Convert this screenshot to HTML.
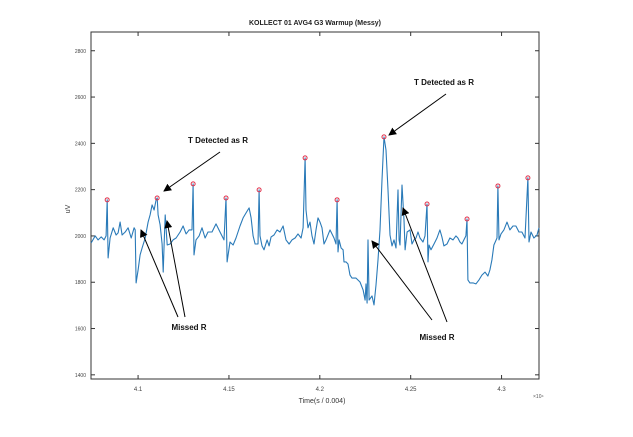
<!DOCTYPE html>
<html><head><meta charset="utf-8"><style>
html,body{margin:0;padding:0;background:#fff;}
svg{display:block;font-family:"Liberation Sans",sans-serif;}
</style></head><body>
<svg id="chart" width="633" height="437">
<defs><marker id="ah" markerWidth="8" markerHeight="8" refX="7" refY="4" orient="auto" markerUnits="userSpaceOnUse"><path d="M0,0 L8,4 L0,8 z" fill="#000"/></marker></defs>
<rect width="633" height="437" fill="#fff"/>
<text x="315" y="25" font-size="7" font-weight="bold" text-anchor="middle" fill="#222">KOLLECT 01 AVG4 G3 Warmup (Messy)</text>
<g id="axes"></g>
<g id="series"></g>
<g id="peaks"></g>
<g id="annot" font-size="8" font-weight="bold" fill="#111">
<text x="218" y="143" text-anchor="middle">T Detected as R</text>
<line x1="220" y1="152" x2="164" y2="191" stroke="#000" stroke-width="1" marker-end="url(#ah)"/>
<text x="444" y="85" text-anchor="middle">T Detected as R</text>
<line x1="446" y1="94" x2="389" y2="135" stroke="#000" stroke-width="1" marker-end="url(#ah)"/>
<text x="189" y="330" text-anchor="middle">Missed R</text>
<line x1="178" y1="317" x2="141" y2="230" stroke="#000" stroke-width="1" marker-end="url(#ah)"/>
<line x1="185" y1="317" x2="167" y2="221" stroke="#000" stroke-width="1" marker-end="url(#ah)"/>
<text x="437" y="340" text-anchor="middle">Missed R</text>
<line x1="432" y1="320" x2="372" y2="241" stroke="#000" stroke-width="1" marker-end="url(#ah)"/>
<line x1="447" y1="322" x2="403" y2="208" stroke="#000" stroke-width="1" marker-end="url(#ah)"/>
</g>
<text x="322" y="403" font-size="7" text-anchor="middle" fill="#333">Time(s / 0.004)</text>
<text x="533" y="398" font-size="5" fill="#555">×10⁴</text>
<text x="70" y="209" font-size="7" fill="#333" text-anchor="middle" transform="rotate(-90 70 209)">uV</text>
</svg>
<script>
const timeVals=[40742,40764,40780,40797,40813,40824,40830,40835,40846,40863,40879,40890,40901,40912,40929,40945,40962,40978,40984,40989,41000,41011,41022,41039,41055,41066,41077,41088,41099,41105,41110,41121,41132,41138,41143,41149,41160,41176,41193,41209,41231,41248,41264,41281,41297,41303,41308,41319,41336,41352,41369,41385,41407,41429,41451,41473,41484,41490,41506,41523,41539,41561,41578,41594,41611,41622,41633,41644,41660,41666,41671,41682,41693,41710,41721,41732,41748,41765,41781,41798,41814,41831,41847,41864,41880,41897,41908,41919,41924,41935,41946,41957,41968,41979,41990,42001,42012,42023,42034,42056,42078,42089,42095,42100,42106,42117,42128,42133,42144,42155,42166,42177,42199,42221,42238,42249,42254,42260,42265,42271,42287,42298,42309,42320,42331,42342,42353,42364,42375,42386,42397,42408,42419,42430,42436,42441,42452,42463,42469,42480,42496,42507,42518,42529,42540,42551,42568,42579,42590,42595,42601,42612,42628,42645,42661,42672,42683,42700,42716,42733,42749,42760,42771,42782,42793,42804,42810,42815,42826,42843,42859,42876,42892,42909,42925,42936,42947,42958,42975,42980,42986,42997,43013,43030,43046,43063,43079,43096,43112,43129,43145,43151,43162,43178,43195,43206];
const signalVals=[1970,2000,1983,1996,1983,2000,2156,1905,1991,2035,2004,2013,2060,2004,2017,2035,1991,2035,2026,1797,1853,1918,1948,1991,2060,2091,2134,2112,2156,2164,2091,2048,1965,1844,1961,2091,1961,1965,1983,1991,2017,2043,2009,2026,2026,2225,1918,1983,2000,2035,1991,2017,2017,2052,2017,1983,2164,1888,1974,1961,1991,2043,2078,2099,2121,2078,2000,1965,1965,2199,2000,1957,1940,1983,1957,1996,2004,2026,2017,2043,1983,1965,1983,1991,2009,1991,2035,2337,2112,2035,2060,2000,1965,2026,2078,2060,2035,1965,1983,2026,1991,1965,2156,1931,1983,1948,1940,1888,1888,1879,1831,1818,1818,1801,1767,1723,1793,1710,1983,1723,1741,1702,1788,1896,2026,2242,2428,2371,2199,2004,1957,1983,1948,2199,1983,1961,2220,2069,1940,2017,2026,1965,1983,1991,2017,1991,1974,2000,2138,1888,1961,1940,1965,1991,2026,1996,1957,1965,1991,1983,2000,1991,1974,1965,1983,2000,2073,1810,1797,1797,1793,1810,1831,1844,1827,1853,1896,1961,1991,2216,1983,2009,2026,2060,2026,2043,2043,2017,2017,1991,2251,1974,2017,1991,2004,2035];
const peakTimes=[40830,41105,41303,41484,41666,41919,42095,42353,42590,42810,42980,43145];
const peakVals=[2156,2164,2225,2164,2199,2337,2156,2428,2138,2073,2216,2251];
const xTicks=[41000,41500,42000,42500,43000];
const xTickLabels=["4.1","4.15","4.2","4.25","4.3"];
const yTicks=[1400,1600,1800,2000,2200,2400,2600,2800];
const yTickLabels=["1400","1600","1800","2000","2200","2400","2600","2800"];

const L=91,R=539,T=32,B=379;
const xMin=40741,xMax=43206,yMin=1382,yMax=2881;
const xs=v=>L+(v-xMin)/(xMax-xMin)*(R-L);
const ys=v=>B-(v-yMin)/(yMax-yMin)*(B-T);
const NS="http://www.w3.org/2000/svg";
function mk(tag,attrs,parent){const e=document.createElementNS(NS,tag);for(const k in attrs)e.setAttribute(k,attrs[k]);parent.appendChild(e);return e;}

const axes=document.getElementById('axes');
const frame=mk('rect',{x:L,y:T,width:R-L,height:B-T,fill:'none',stroke:'#333','stroke-width':1},axes);


xTicks.forEach((t,i)=>{
  const x=xs(t);
  mk('line',{x1:x,y1:B,x2:x,y2:B-4,stroke:'#333'},axes);
  mk('line',{x1:x,y1:T,x2:x,y2:T+4,stroke:'#333'},axes);
  const lb=mk('text',{x:x,y:B+12,'font-size':6,'text-anchor':'middle',fill:'#444'},axes);
  lb.textContent=xTickLabels[i];
  
  
});
yTicks.forEach((t,i)=>{
  const y=ys(t);
  mk('line',{x1:L,y1:y,x2:L+4,y2:y,stroke:'#333'},axes);
  mk('line',{x1:R,y1:y,x2:R-4,y2:y,stroke:'#333'},axes);
  const lb=mk('text',{x:L-5,y:y+2,'font-size':5,'text-anchor':'end',fill:'#444'},axes);
  lb.textContent=yTickLabels[i];
  
  
});

const series=document.getElementById('series');
const d=timeVals.map((t,i)=>(i?'L':'M')+xs(t).toFixed(1)+','+ys(signalVals[i]).toFixed(1)).join(' ');
const path=mk('path',{d:d,fill:'none',stroke:'#2a7ab8','stroke-width':1.1,'stroke-linejoin':'round'},series);



const peaks=document.getElementById('peaks');
peakTimes.forEach((t,i)=>{
  const c=mk('circle',{cx:xs(t),cy:ys(peakVals[i]),r:2,fill:'none',stroke:'#e0304a','stroke-width':1},peaks);
  
  
});
</script>
</body></html>
